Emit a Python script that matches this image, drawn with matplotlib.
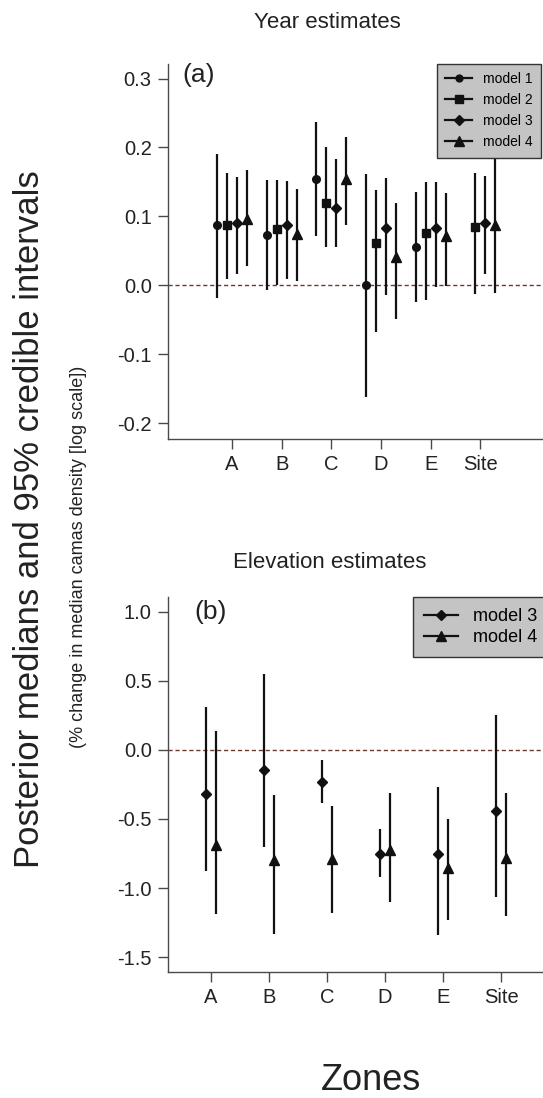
import numpy as np
import matplotlib
matplotlib.use("Agg")
import matplotlib.pyplot as plt
from matplotlib.lines import Line2D

plt.rcParams["font.family"] = ["Liberation Sans", "DejaVu Sans"]
plt.rcParams["axes.unicode_minus"] = False

zones = ["A", "B", "C", "D", "E", "Site"]

# (a) Year estimates: median, lower, upper for each model (nan = not shown)
year_m1 = [0.087, 0.073, 0.154, 0.000, 0.056, np.nan]
year_m1_lo = [-0.018, -0.006, 0.071, -0.162, -0.024, np.nan]
year_m1_hi = [0.190, 0.153, 0.237, 0.161, 0.136, np.nan]
year_m2 = [0.087, 0.082, 0.120, 0.062, 0.076, 0.085]
year_m2_lo = [0.010, 0.001, 0.056, -0.068, -0.021, -0.013]
year_m2_hi = [0.163, 0.153, 0.201, 0.138, 0.150, 0.163]
year_m3 = [0.091, 0.087, 0.113, 0.084, 0.084, 0.091]
year_m3_lo = [0.016, 0.010, 0.056, -0.014, -0.002, 0.016]
year_m3_hi = [0.157, 0.151, 0.184, 0.156, 0.150, 0.158]
year_m4 = [0.097, 0.075, 0.155, 0.041, 0.071, 0.087]
year_m4_lo = [0.028, 0.007, 0.087, -0.048, -0.001, -0.011]
year_m4_hi = [0.167, 0.140, 0.215, 0.119, 0.134, 0.186]

# (b) Elevation estimates
elev_m3 = [-0.32, -0.144, -0.23, -0.754, -0.754, -0.44]
elev_m3_lo = [-0.88, -0.70, -0.386, -0.92, -1.343, -1.067]
elev_m3_hi = [0.31, 0.55, -0.077, -0.57, -0.27, 0.25]
elev_m4 = [-0.69, -0.80, -0.79, -0.725, -0.855, -0.78]
elev_m4_lo = [-1.19, -1.336, -1.18, -1.10, -1.235, -1.20]
elev_m4_hi = [0.135, -0.33, -0.41, -0.31, -0.50, -0.31]

markers = {"model 1": ("o", 5.5), "model 2": ("s", 6), "model 3": ("D", 5.5), "model 4": ("^", 7.5)}
INK = "#111111"
AXC = "#4a4a4a"


def draw(ax, x, med, lo, hi, name):
    med, lo, hi = np.array(med), np.array(lo), np.array(hi)
    mk, ms = markers[name]
    ax.errorbar(x, med, yerr=[med - lo, hi - med], fmt=mk, ms=ms, color=INK,
                ecolor=INK, elinewidth=1.6, capsize=0, zorder=3)


def style(ax):
    for s in ["top", "right"]:
        ax.spines[s].set_visible(False)
    for s in ["left", "bottom"]:
        ax.spines[s].set_color(AXC)
        ax.spines[s].set_linewidth(1.0)
    ax.tick_params(direction="out", length=7, width=1, color=AXC, labelsize=14.5, labelcolor="#222222")
    ax.tick_params(axis="x", pad=5)
    ax.tick_params(axis="y", pad=5)
    ax.set_xticks(range(len(zones)))
    ax.set_xticklabels(zones)


fig = plt.figure(figsize=(5.43, 10.98), dpi=100)

# panel (a)
ax1 = fig.add_axes([0.310, 0.6005, 0.690, 0.3412])
idx = np.arange(len(zones))
draw(ax1, idx - 0.3, year_m1, year_m1_lo, year_m1_hi, "model 1")
draw(ax1, idx - 0.1, year_m2, year_m2_lo, year_m2_hi, "model 2")
draw(ax1, idx + 0.1, year_m3, year_m3_lo, year_m3_hi, "model 3")
draw(ax1, idx + 0.3, year_m4, year_m4_lo, year_m4_hi, "model 4")
ax1.axhline(0, color="#6b3a2a", lw=1, ls=(0, (3, 2)), zorder=1)
ax1.set_xlim(-1.28, 6.26)
ax1.set_ylim(-0.222, 0.321)
ax1.set_yticks([-0.2, -0.1, 0.0, 0.1, 0.2, 0.3])
ax1.set_yticklabels(["%.1f" % v for v in [-0.2, -0.1, 0.0, 0.1, 0.2, 0.3]])
style(ax1)

# panel (b)
ax2 = fig.add_axes([0.310, 0.115, 0.690, 0.3415])
draw(ax2, idx - 0.09, elev_m3, elev_m3_lo, elev_m3_hi, "model 3")
draw(ax2, idx + 0.09, elev_m4, elev_m4_lo, elev_m4_hi, "model 4")
ax2.axhline(0, color="#6b3a2a", lw=1, ls=(0, (3, 2)), zorder=1)
ax2.set_xlim(-0.73, 5.72)
ax2.set_ylim(-1.606, 1.108)
yt = [-1.5, -1.0, -0.5, 0.0, 0.5, 1.0]
ax2.set_yticks(yt)
ax2.set_yticklabels(["%.1f" % v for v in yt])
style(ax2)


def handles(names):
    return [Line2D([0], [0], color=INK, lw=1.6, marker=markers[n][0], ms=markers[n][1] * 0.9) for n in names]


names_a = ["model 1", "model 2", "model 3", "model 4"]
leg1 = fig.legend(handles(names_a), names_a, loc="upper left", bbox_to_anchor=(437 / 543, 1 - 64 / 1098),
                  borderaxespad=0, fontsize=10, frameon=True, fancybox=False, framealpha=1,
                  handlelength=1.9, labelspacing=0.5, borderpad=0.6, handletextpad=0.8)
leg1.get_frame().set_facecolor("#c4c4c4")
leg1.get_frame().set_edgecolor("#333333")

names_b = ["model 3", "model 4"]
leg2 = fig.legend(handles(names_b), names_b, loc="upper left", bbox_to_anchor=(413 / 543, 1 - 597 / 1098),
                  borderaxespad=0, fontsize=13, frameon=True, fancybox=False, framealpha=1,
                  handlelength=1.9, labelspacing=0.25, borderpad=0.6, handletextpad=0.8)
leg2.get_frame().set_facecolor("#c4c4c4")
leg2.get_frame().set_edgecolor("#333333")

fig.text(327 / 543, 1 - 22 / 1098, "Year estimates", ha="center", va="center", fontsize=16, color="#222222")
fig.text(330 / 543, 1 - 563 / 1098, "Elevation estimates", ha="center", va="center", fontsize=16, color="#222222")
fig.text(182 / 543, 1 - 75 / 1098, "(a)", ha="left", va="center", fontsize=19, color="#222222")
fig.text(194 / 543, 1 - 612 / 1098, "(b)", ha="left", va="center", fontsize=19, color="#222222")
fig.text(371 / 543, 1 - 1090 / 1098, "Zones", ha="center", va="baseline", fontsize=26, color="#222222")
fig.text(30 / 543, 1 - 519 / 1098, "Posterior medians and 95% credible intervals", rotation=90,
         ha="center", va="center", fontsize=25, color="#222222")
fig.text(79 / 543, 1 - 557 / 1098, "(% change in median camas density [log scale])", rotation=90,
         ha="center", va="center", fontsize=13, color="#222222")

fig.savefig("out.png", dpi=100)
plt.close(fig)
